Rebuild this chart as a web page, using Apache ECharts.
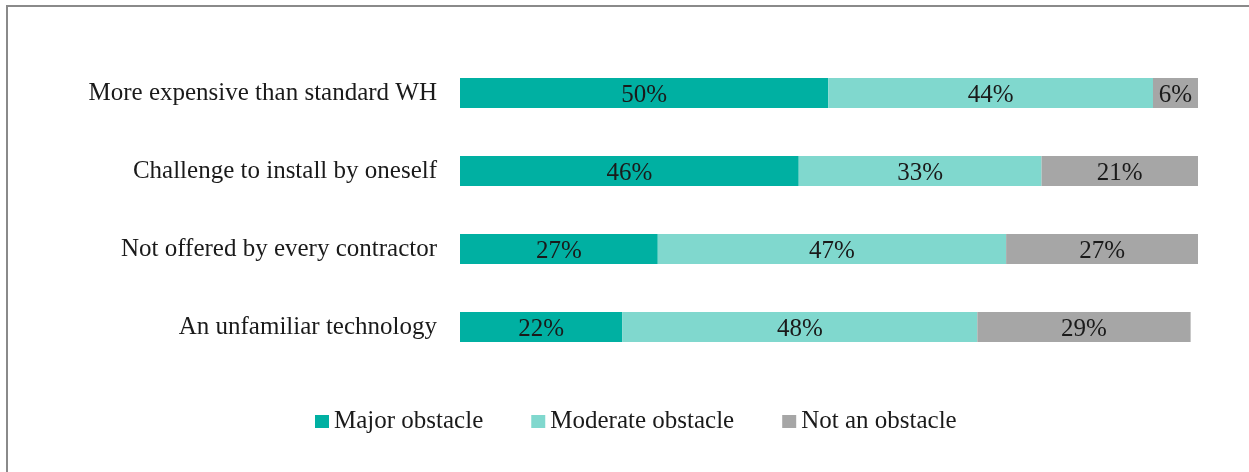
<!DOCTYPE html>
<html>
<head>
<meta charset="utf-8">
<script src="https://cdn.jsdelivr.net/npm/echarts@6/dist/echarts.min.js"></script>
<style>
    html, body { margin: 0; padding: 0; background: #fff; overflow: hidden; }
    #frame {
        position: absolute; left: 6px; top: 5px;
        width: 1260px; height: 480px;
        border-left: 2px solid #8a8a8a; border-top: 2px solid #8a8a8a;
    }
    #chart { position: absolute; left: 0; top: 0; width: 1249px; height: 472px; }
</style>
</head>
<body>
<div id="frame"></div>
<div id="chart"></div>
<script>
    // categories, top to bottom
    var categories = [
        'More expensive than standard WH',
        'Challenge to install by oneself',
        'Not offered by every contractor',
        'An unfamiliar technology'
    ];
    var seriesNames = ['Major obstacle', 'Moderate obstacle', 'Not an obstacle'];
    // percentages
    var major = [49.9, 45.9, 26.8, 22.0];
    var moderate = [44.0, 32.9, 47.2, 48.1];
    var notObstacle = [6.1, 21.2, 26.5, 28.9];
    var colors = ['#00b0a2', '#80d8ce', '#a6a6a6'];

    var font = '"Liberation Serif", "Times New Roman", serif';
    var chart = echarts.init(document.getElementById('chart'));

    function makeSeries(name, data, color) {
        return {
            name: name,
            type: 'bar',
            stack: 'total',
            barWidth: 30,
            data: data,
            itemStyle: { color: color },
            label: {
                show: true,
                position: 'inside',
                offset: [0, 2],
                color: '#1a1a1a',
                fontFamily: font,
                fontSize: 25,
                formatter: function (p) { return Math.round(p.value) + '%'; }
            }
        };
    }

    chart.setOption({
        animation: false,
        textStyle: { fontFamily: font },
        grid: { left: 460, right: 51, top: 54, height: 312 },
        legend: {
            left: 310,
            top: 404,
            itemWidth: 14,
            itemHeight: 13,
            itemGap: 48,
            icon: 'rect',
            textStyle: { fontFamily: font, fontSize: 25, color: '#1a1a1a' },
            data: seriesNames
        },
        xAxis: {
            type: 'value', min: 0, max: 100,
            show: false
        },
        yAxis: {
            type: 'category',
            inverse: true,
            data: categories,
            axisLine: { show: false },
            axisTick: { show: false },
            axisLabel: { fontFamily: font, fontSize: 25, color: '#1a1a1a', margin: 23 }
        },
        series: [
            makeSeries(seriesNames[0], major, colors[0]),
            makeSeries(seriesNames[1], moderate, colors[1]),
            makeSeries(seriesNames[2], notObstacle, colors[2])
        ]
    });
</script>
</body>
</html>
